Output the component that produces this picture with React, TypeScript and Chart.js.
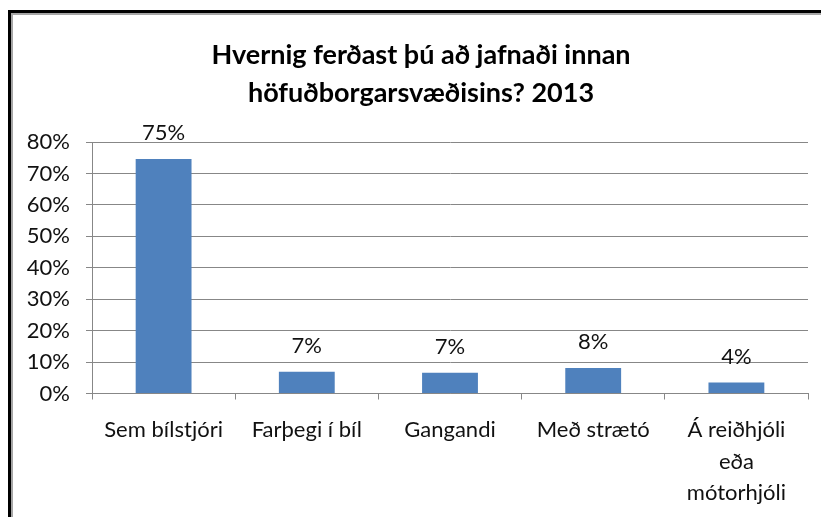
import React, { useEffect, useRef } from "react";
import { Chart, registerables } from "chart.js";

Chart.register(...registerables);

const titleLines = ["Hvernig ferðast þú að jafnaði innan", "höfuðborgarsvæðisins? 2013"];
const categories: (string | string[])[] = [
  "Sem bílstjóri",
  "Farþegi í bíl",
  "Gangandi",
  "Með strætó",
  ["Á reiðhjóli", "eða", "mótorhjóli"],
];
const shares = [74.6, 6.9, 6.6, 8.1, 3.5];
const yMin = 0;
const yMax = 80;
const yStep = 10;

const FONT = "Lato, 'Open Sans', sans-serif";
const GRID = "#878787";
const BAR = "#4F81BD";

// White page with the framed edge along the top and left sides
const framePlugin = {
  id: "frame",
  beforeDraw(chart: Chart) {
    const { ctx, width, height } = chart;
    ctx.save();
    ctx.fillStyle = "#ffffff";
    ctx.fillRect(0, 0, width, height);
    ctx.fillStyle = "#000000";
    ctx.fillRect(8, 10, 3, height);
    ctx.fillRect(8, 10, width, 3);
    ctx.fillStyle = "#a6a6a6";
    ctx.fillRect(11, 13, 2, height);
    ctx.fillRect(11, 13, width, 2);
    ctx.restore();
  },
};

// Two-line heading above the plot
const headingPlugin = {
  id: "heading",
  afterDraw(chart: Chart) {
    const { ctx } = chart;
    ctx.save();
    ctx.font = `bold 27px ${FONT}`;
    ctx.fillStyle = "#000000";
    ctx.textAlign = "center";
    ctx.textBaseline = "middle";
    titleLines.forEach((line, i) => {
      ctx.fillText(line, 421, 55 + i * 38);
    });
    ctx.restore();
  },
};

// Percentage labels over each bar
const valueLabels = {
  id: "valueLabels",
  afterDatasetsDraw(chart: Chart) {
    const { ctx } = chart;
    const meta = chart.getDatasetMeta(0);
    ctx.save();
    ctx.font = `22px ${FONT}`;
    ctx.fillStyle = "#111111";
    ctx.textAlign = "center";
    ctx.textBaseline = "middle";
    meta.data.forEach((el: any, i: number) => {
      const v = shares[i];
      ctx.fillText(`${Math.round(v)}%`, el.x, el.y - 26);
    });
    ctx.restore();
  },
};

export default function App() {
  const canvasRef = useRef<HTMLCanvasElement | null>(null);

  useEffect(() => {
    const canvas = canvasRef.current;
    if (!canvas) return;
    const chart = new Chart(canvas, {
      type: "bar",
      data: {
        labels: categories,
        datasets: [
          {
            data: shares,
            backgroundColor: BAR,
            borderWidth: 0,
            barPercentage: 0.39,
            categoryPercentage: 1,
          },
        ],
      },
      options: {
        animation: false,
        responsive: false,
        maintainAspectRatio: false,
        layout: { padding: { left: 0, right: 13, top: 142, bottom: 0 } },
        plugins: {
          legend: { display: false },
          tooltip: { enabled: false },
          title: { display: false },
        },
        scales: {
          x: {
            grid: {
              display: true,
              drawOnChartArea: false,
              drawTicks: true,
              tickLength: 6,
              color: GRID,
              offset: true,
            },
            border: { display: true, color: GRID },
            ticks: {
              color: "#111111",
              font: { family: FONT, size: 22, lineHeight: 1.43 },
              padding: 15,
              maxRotation: 0,
              autoSkip: false,
            },
            afterFit(scale: any) {
              scale.height = 123.5;
            },
          },
          y: {
            min: yMin,
            max: yMax,
            grid: {
              color: GRID,
              drawTicks: true,
              tickLength: 6,
            },
            border: { display: true, color: GRID },
            ticks: {
              stepSize: yStep,
              color: "#111111",
              font: { family: FONT, size: 22 },
              padding: 16,
              callback: (v: any) => `${v}%`,
            },
            afterFit(scale: any) {
              scale.width = 92;
            },
          },
        },
      },
      plugins: [framePlugin, headingPlugin, valueLabels],
    });
    return () => chart.destroy();
  }, []);

  return (
    <div style={{ position: "fixed", left: 0, top: 0, width: 821, height: 517 }}>
      <canvas
        ref={canvasRef}
        width={821}
        height={517}
        style={{ display: "block" }}
        aria-label={titleLines.join(" ")}
      />
    </div>
  );
}
